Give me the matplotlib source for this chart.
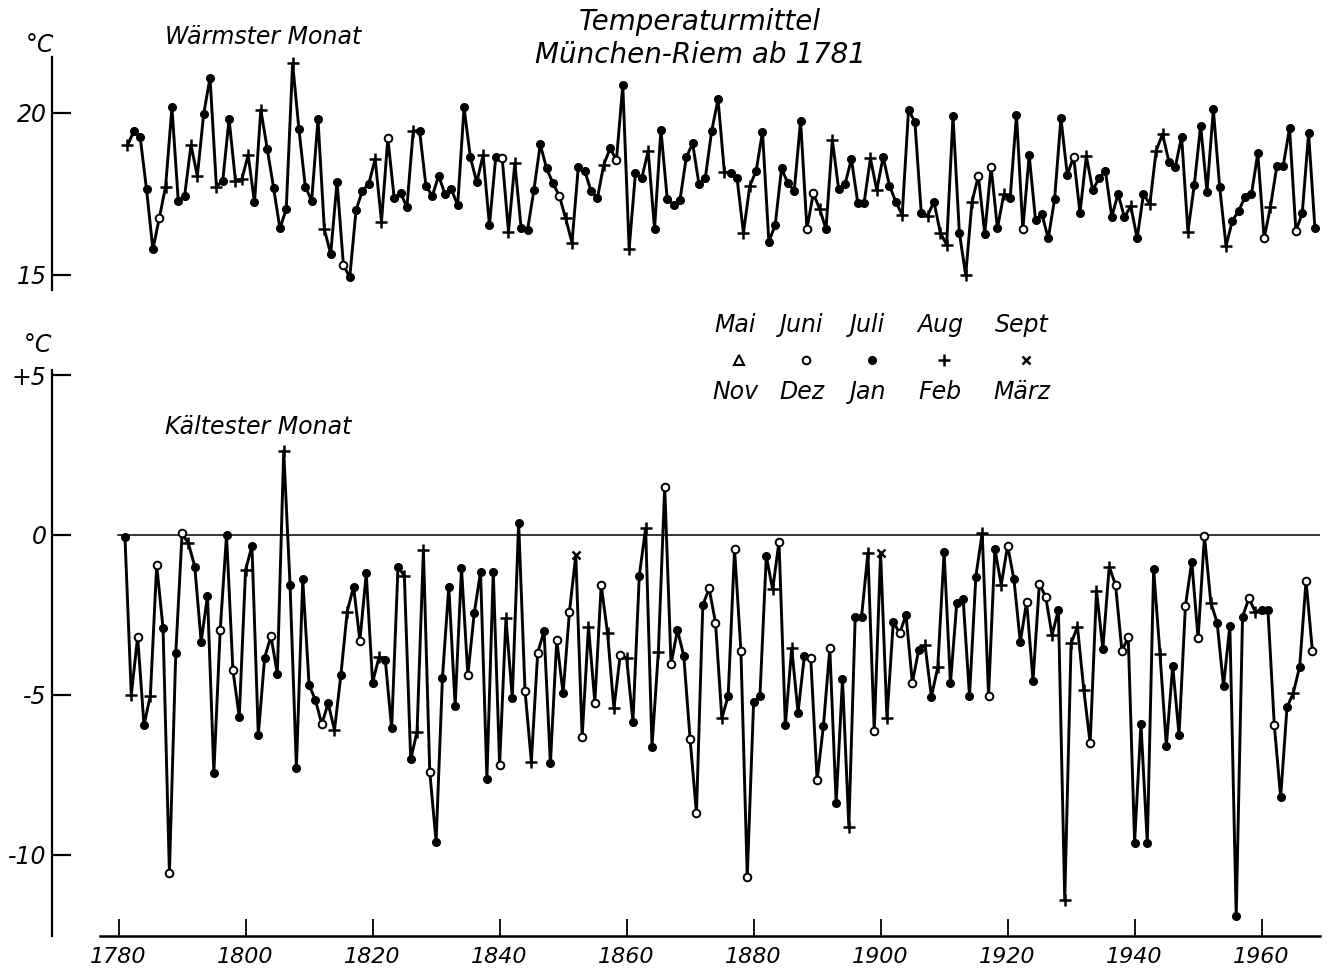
import matplotlib
matplotlib.use('Agg')
import matplotlib.pyplot as plt
from matplotlib.lines import Line2D

W, H = 1328, 972
FONT = ['DejaVu Sans']

years = list(range(1781, 1969))

# mean temperature of the warmest month, 1781-1968
warm = [
    19.0, 19.44, 19.25, 17.64, 15.79, 16.75, 17.73, 20.17, 17.28, 17.45,
    19.01, 18.06, 19.97, 21.09, 17.73, 17.91, 19.81, 17.91, 17.95, 18.70,
    17.24, 20.1, 18.89, 17.70, 16.44, 17.03, 21.53, 19.50, 17.73, 17.29,
    19.80, 16.41, 15.65, 17.88, 15.31, 14.93, 17.01, 17.60, 17.81, 18.58,
    16.65, 19.22, 17.37, 17.54, 17.09, 19.45, 19.45, 17.75, 17.44, 18.06,
    17.50, 17.64, 17.16, 20.17, 18.63, 17.86, 18.70, 16.54, 18.65, 18.62,
    16.34, 18.45, 16.44, 16.39, 17.62, 19.03, 18.29, 17.83, 17.45, 16.75,
    16.0, 18.34, 18.22, 17.59, 17.37, 18.40, 18.91, 18.55, 20.86, 15.8,
    18.16, 18.0, 18.83, 16.42, 19.48, 17.35, 17.16, 17.31, 18.63, 19.06,
    17.80, 18.0, 19.45, 20.42, 18.17, 18.14, 17.98, 16.3, 17.75, 18.21,
    19.42, 16.03, 16.54, 18.29, 17.83, 17.60, 19.76, 16.42, 17.52, 17.04,
    16.42, 19.17, 17.64, 17.80, 18.58, 17.23, 17.23, 18.60, 17.62, 18.65,
    17.75, 17.26, 16.85, 20.09, 19.73, 16.92, 16.83, 17.26, 16.31, 15.93,
    19.91, 16.31, 15.0, 17.26, 18.06, 16.27, 18.34, 16.44, 17.49, 17.37,
    19.94, 16.42, 18.69, 16.70, 16.88, 16.13, 17.34, 19.84, 18.09, 18.65,
    16.92, 18.67, 17.62, 17.98, 18.22, 16.80, 17.50, 16.78, 17.13, 16.13,
    17.50, 17.19, 18.84, 19.35, 18.50, 18.32, 19.27, 16.34, 17.78, 19.61,
    17.57, 20.11, 17.71, 15.90, 16.68, 16.98, 17.42, 17.49, 18.76, 16.13,
    17.11, 18.36, 18.36, 19.53, 16.36, 16.90, 19.37, 16.44,
]
# month of the warmest value: f=Juli, o=Juni, +=Aug, x=Sept, t=Mai
warm_month = (
    '+ffffo+fff' '++ff+ff+++' 'f+ffff+fff' 'f+ffoffff+' '+offf+ffff'
    'ffffff+ffo' '++ffffffo+' '+ffff+fof+' 'ff+fffffff' 'ffff+ff++f'
    'fffffffoo+' 'f+fffff++f' 'ff+fff+f++' 'ff++ofof+f' 'fofffffffo'
    'f+ffffff+f' 'f+++fff+ff' 'fff+fffffo' '+fffofff'
)

# mean temperature of the coldest month, 1781-1968
cold = [
    -0.05, -5.0, -3.18, -5.94, -5.02, -0.94, -2.92, -10.57, -3.70, 0.05,
    -0.26, -0.99, -3.33, -1.90, -7.43, -2.97, 0.0, -4.22, -5.68, -1.09,
    -0.34, -6.25, -3.83, -3.16, -4.35, 2.63, -1.56, -7.29, -1.39, -4.69,
    -5.16, -5.91, -5.26, -6.1, -4.38, -2.40, -1.61, -3.30, -1.20, -4.61,
    -3.82, -3.91, -6.04, -0.99, -1.28, -7.01, -6.15, -0.47, -7.40, -9.58,
    -4.46, -1.61, -5.34, -1.04, -4.38, -2.45, -1.15, -7.63, -1.15, -7.19,
    -2.60, -5.10, 0.39, -4.86, -7.08, -3.68, -3.0, -7.14, -3.28, -4.95,
    -2.40, -0.63, -6.32, -2.86, -5.24, -1.56, -3.07, -5.42, -3.75, -3.85,
    -5.83, -1.27, 0.21, -6.61, -3.65, 1.51, -4.04, -2.97, -3.77, -6.38,
    -8.70, -2.19, -1.67, -2.74, -5.73, -5.02, -0.44, -3.61, -10.68, -5.23,
    -5.02, -0.66, -1.7, -0.21, -5.94, -3.54, -5.55, -3.77, -3.85, -7.66,
    -5.96, -3.54, -8.38, -4.51, -9.11, -2.57, -2.55, -0.57, -6.13, -0.55,
    -5.73, -2.71, -3.07, -2.50, -4.61, -3.59, -3.44, -5.05, -4.14, -0.54,
    -4.64, -2.11, -2.01, -5.03, -1.30, 0.07, -5.02, -0.44, -1.56, -0.33,
    -1.39, -3.35, -2.08, -4.55, -1.53, -1.93, -3.13, -2.34, -11.4, -3.39,
    -2.86, -4.84, -6.51, -1.74, -3.56, -0.99, -1.56, -3.62, -3.20, -9.61,
    -5.91, -9.63, -1.07, -3.73, -6.59, -4.09, -6.25, -2.22, -0.83, -3.23,
    -0.03, -2.11, -2.74, -4.72, -2.84, -11.9, -2.55, -1.98, -2.40, -2.34,
    -2.34, -5.94, -8.20, -5.39, -4.93, -4.11, -1.43, -3.62,
]
# month of the coldest value: f=Jan, o=Dez, +=Feb, x=Maerz, t=Nov
cold_month = (
    'f+of+ofofo' '+ffffofof+' 'fffof+ffff' 'fof+f+foff' '+fff+f++of'
    'ffffoffffo' '+ffo+offof' 'oxo+oo++o+' 'ff+f+ooffo' 'ofoo+fooof'
    'ff+of+ffoo' 'foff+ff+ox' '+fofof+f+f' 'fffff+of+o' 'ffofoo+f++'
    '++o+f+ooof' 'fff+fffofo' 'o+fffffo+f' 'foff+foo'
)

top_months = ['Mai', 'Juni', 'Juli', 'Aug', 'Sept']
bot_months = ['Nov', 'Dez', 'Jan', 'Feb', 'März']
legend_codes = ['t', 'o', 'f', '+', 'x']

MARK = {
    'f': dict(marker='o', ms=5.5, mfc='k', mec='k', mew=1.0),
    'o': dict(marker='o', ms=5.5, mfc='white', mec='k', mew=1.4),
    '+': dict(marker='+', ms=8, mec='k', mew=1.8),
    'x': dict(marker='x', ms=6, mec='k', mew=1.8),
    't': dict(marker='^', ms=6.5, mfc='white', mec='k', mew=1.5),
}


def box(l, t, r, b):
    return [l / W, 1 - b / H, (r - l) / W, (b - t) / H]


def draw_series(ax, xs, ys, codes):
    ax.plot(xs, ys, color='k', lw=2.1, zorder=2)
    for c, st in MARK.items():
        px = [x for x, k in zip(xs, codes) if k == c]
        py = [y for y, k in zip(ys, codes) if k == c]
        if px:
            ax.plot(px, py, ls='none', zorder=3, **st)


fig = plt.figure(figsize=(W / 100, H / 100), dpi=100)
tfont = dict(family=FONT, style='italic')

x0 = 1780 + (52 - 118.6) / 6.35
x1 = 1780 + (1320 - 118.6) / 6.35

# warmest month panel (drawn about half a year to the right in the original)
ax1 = fig.add_axes(box(52, 57, 1320, 290))
ax1.set_xlim(x0 - 0.4, x1 - 0.4)
ax1.set_ylim(20 - (290 - 113) / 32.4, 20 + (113 - 57) / 32.4)
draw_series(ax1, years, warm, warm_month)
for s in ['top', 'right', 'bottom']:
    ax1.spines[s].set_visible(False)
ax1.spines['left'].set_linewidth(1.6)
ax1.set_xticks([])
ax1.set_yticks([15, 20])
ax1.set_yticklabels(['15', '20'], fontsize=17, **tfont)
ax1.tick_params(axis='y', direction='in', length=14, width=1.6, pad=4)

# coldest month panel
ax2 = fig.add_axes(box(52, 370, 1320, 936))
ax2.set_xlim(x0, x1)
ax2.set_ylim(-(936 - 535) / 32, (535 - 370) / 32)
ax2.axhline(0, xmin=(118 - 52) / (1320 - 52), xmax=1, color='k', lw=1.1, zorder=1)
draw_series(ax2, years, cold, cold_month)
for s in ['top', 'right']:
    ax2.spines[s].set_visible(False)
ax2.spines['left'].set_linewidth(1.6)
ax2.spines['bottom'].set_linewidth(1.8)
ax2.spines['bottom'].set_bounds(1780 + (100 - 118.6) / 6.35, x1)
ax2.set_yticks([5, 0, -5, -10])
ax2.set_yticklabels(['+5', '0', '-5', '-10'], fontsize=17, **tfont)
ax2.tick_params(axis='y', direction='in', length=14, width=1.6, pad=4)
ax2.set_xticks(range(1780, 1961, 20))
ax2.set_xticklabels([str(y) for y in range(1780, 1961, 20)], fontsize=16, **tfont)
ax2.tick_params(axis='x', direction='in', length=12, width=1.3, pad=8)

# texts
fig.text(40 / W, 1 - 45 / H, '°C', ha='center', va='center', fontsize=17, **tfont)
fig.text(38 / W, 1 - 345 / H, '°C', ha='center', va='center', fontsize=17, **tfont)
fig.text(165 / W, 1 - 37 / H, 'Wärmster Monat', ha='left', va='center', fontsize=17, **tfont)
fig.text(165 / W, 1 - 427 / H, 'Kältester Monat', ha='left', va='center', fontsize=17, **tfont)
fig.text(700 / W, 1 - 22 / H, 'Temperaturmittel', ha='center', va='center', fontsize=20, **tfont)
fig.text(700 / W, 1 - 55 / H, 'München-Riem ab 1781', ha='center', va='center', fontsize=20, **tfont)

# legend
leg_x = [735, 802, 868, 940, 1022]
for x, m1, m2, c in zip(leg_x, top_months, bot_months, legend_codes):
    fig.text(x / W, 1 - 325 / H, m1, ha='center', va='center', fontsize=17, **tfont)
    fig.text(x / W, 1 - 392 / H, m2, ha='center', va='center', fontsize=17, **tfont)
    fig.add_artist(Line2D([(x + 4) / W], [1 - 360 / H], ls='none',
                          transform=fig.transFigure, **MARK[c]))

fig.savefig('out.png', dpi=100)
